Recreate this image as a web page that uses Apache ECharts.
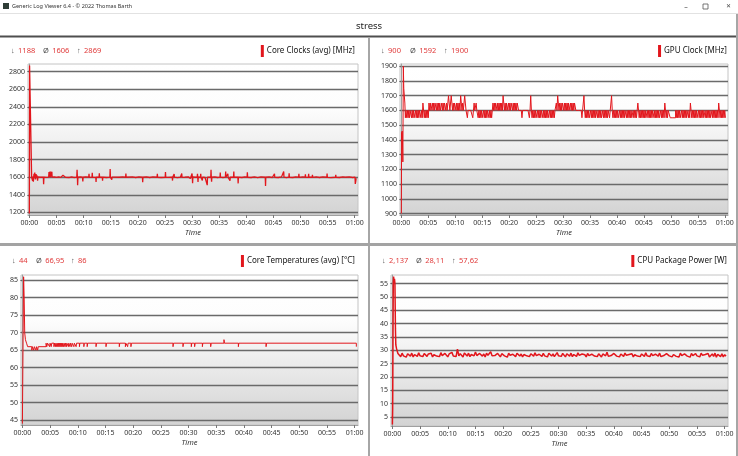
<!DOCTYPE html>
<html>
<head>
<meta charset="utf-8">
<script src="https://cdn.jsdelivr.net/npm/echarts@6/dist/echarts.min.js"></script>
<style>
  html, body { margin: 0; padding: 0; background: #fff; }
  #main { width: 738px; height: 456px; }
</style>
</head>
<body>
<div id="main"></div>
<script>
// values, time in minutes
var panelNames = ["Core Clocks (avg) [MHz]", "GPU Clock [MHz]", "Core Temperatures (avg) [°C]", "CPU Package Power [W]"];
var statMin = ["1188", "900", "44", "2,137"];
var statAvg = ["1606", "1592", "66,95", "28,11"];
var statMax = ["2869", "1900", "86", "57,62"];

var coreClock = [
  [0,1188],[0.04,2869],[0.2,2864],[0.36,2852],[0.42,1600],
  [0.55,1604],[0.6,1560],[0.66,1608],[0.74,1548],[0.8,1604],[0.86,1640],[0.92,1598],[1.0,1652],[1.06,1600],[1.12,1574],
  [1.18,1602],[1.24,1636],[1.3,1598],[1.4,1622],[1.46,1600],[1.52,1560],[1.58,1604],[1.9,1614],[1.96,1600],[2.3,1596],
  [2.58,1602],[2.63,1520],[2.69,1602],[3.1,1598],[3.56,1602],[3.62,1660],[3.68,1600],[3.8,1604],[3.85,1666],[3.9,1598],
  [4.1,1602],[4.15,1662],[4.2,1600],[4.6,1604],[5.0,1597],[5.4,1603],[5.8,1598],[6.15,1602],[6.2,1622],[6.25,1600],
  [6.65,1600],[6.7,1584],[6.75,1602],[7.4,1597],[7.8,1604],[8.2,1597],[8.74,1602],[8.8,1686],[8.86,1600],[8.9,1510],
  [8.96,1600],[9.4,1604],[9.8,1600],[9.86,1552],[9.92,1600],[10.4,1604],[10.95,1600],[11.0,1640],[11.05,1598],[11.55,1602],
  [11.6,1650],[11.65,1600],[12.25,1598],[12.3,1545],[12.35,1602],[12.85,1600],[12.9,1646],[12.95,1600],[13.45,1600],[13.5,1560],
  [13.55,1602],[14.2,1597],[14.85,1602],[14.9,1692],[14.95,1600],[15.15,1600],[15.2,1572],[15.25,1602],[15.85,1602],[15.9,1615],
  [15.95,1600],[16.55,1600],[16.6,1612],[16.65,1598],[17.2,1603],[17.75,1600],[17.8,1642],[17.85,1600],[18.05,1600],[18.1,1620],
  [18.15,1598],[19.0,1604],[19.6,1597],[20.2,1604],[20.85,1600],[20.9,1542],[20.95,1600],[21.6,1604],[22.2,1597],[22.8,1603],
  [23.55,1600],[23.6,1640],[23.65,1600],[24.3,1597],[25.05,1600],[25.1,1660],[25.15,1600],[25.45,1600],[25.5,1620],[25.55,1598],
  [26.35,1600],[26.4,1562],[26.45,1602],[26.65,1600],[26.7,1636],[26.75,1600],[27.3,1596],[27.85,1600],[27.9,1620],[27.95,1600],
  [28.05,1600],[28.1,1642],[28.15,1598],[28.65,1600],[28.7,1588],[28.75,1600],[29.3,1604],[29.65,1600],[29.7,1586],[29.75,1602],
  [29.95,1600],[30.0,1642],[30.05,1600],[30.1,1532],[30.15,1604],[30.55,1600],[30.6,1590],[30.65,1602],[30.95,1600],[31.0,1640],
  [31.05,1600],[31.1,1546],[31.15,1602],[31.55,1600],[31.6,1640],[31.65,1598],[31.85,1600],[31.9,1564],[31.95,1602],[32.4,1597],
  [32.75,1600],[32.8,1510],[32.85,1600],[33.45,1602],[33.5,1684],[33.55,1600],[33.6,1548],[33.65,1600],[34.2,1604],[34.7,1597],
  [35.15,1600],[35.2,1652],[35.25,1600],[35.7,1597],[36.15,1600],[36.2,1666],[36.25,1600],[36.55,1600],[36.6,1640],[36.65,1598],
  [36.95,1600],[37.0,1560],[37.05,1602],[37.65,1600],[37.7,1664],[37.75,1600],[38.45,1600],[38.5,1530],[38.55,1602],[39.2,1597],
  [39.7,1604],[40.15,1600],[40.2,1656],[40.25,1600],[40.9,1597],[41.5,1604],[42.1,1596],[42.7,1603],[43.5,1600],[43.55,1500],
  [43.6,1600],[44.2,1604],[44.8,1597],[45.15,1600],[45.2,1640],[45.25,1600],[45.9,1597],[46.5,1604],[46.85,1600],[46.9,1666],
  [46.95,1600],[47.4,1596],[47.85,1600],[47.9,1646],[47.95,1600],[48.6,1597],[49.1,1604],[49.65,1600],[49.7,1640],[49.75,1598],
  [50.4,1604],[50.85,1600],[50.9,1632],[50.95,1598],[51.45,1600],[51.5,1640],[51.55,1600],[52.15,1600],[52.2,1626],[52.25,1598],
  [52.9,1604],[53.5,1597],[54.1,1604],[54.85,1600],[54.9,1642],[54.95,1598],[55.6,1596],[56.45,1600],[56.5,1626],[56.55,1600],
  [57.2,1597],[57.8,1604],[58.25,1600],[58.3,1620],[58.35,1598],[59.0,1603],[59.6,1597],[60.05,1602],[60.1,1524],[60.2,1560],
  [60.25,1590]
];

var gpuStart = [[0,900],[0.05,1450],[0.1,1400],[0.15,1460],[0.2,1410],[0.28,1250],[0.37,1900],[0.45,1750],[0.55,1760],[0.65,1650],[0.75,1550],[0.85,1600]];
var gpuSampleStart = 1.0, gpuSampleStep = 0.125;
var gpuSamples = [
  1550,1600,1550,1600,1550,1600,1600,1550,1600,1550,1600,1550,1550,1600,1550,1600,1550,1600,1550,1600,1600,1550,1600,1550,
  1650,1600,
  1550,1600,1550,1600,1550,1600,1550,
  1650,1600,1650,1600,1600,1650,1600,1650,1600,1650,1650,1600,1650,1600,1650,1600,1650,1600,1600,1650,1600,1650,1600,1650,1650,1600,1650,1600,1650,
  1700,
  1650,1600,1650,1700,1650,1600,1650,1600,1650,1650,1600,1650,1600,1650,1600,1650,1600,1700,1650,1600,1650,1600,1650,1700,1650,
  1600,1600,1550,1600,1600,1600,1600,1600,1600,1600,1550,1600,
  1650,1600,1600,1650,1600,1600,1550,
  1600,1550,1600,1550,1600,1550,1550,1600,1550,1600,1550,1600,1550,1600,1600,1550,1600,1550,1600,1550,1600,
  1650,1600,1650,1600,1650,1650,1600,1650,1600,1650,1600,1650,1600,1650,1600,1700,1650,1600,1650,1600,
  1650,1600,1600,1650,1600,1650,1600,1650,1650,1600,1650,1600,1650,1600,1650,1600,1650,1650,1600,1600,
  1600,1600,1600,1550,1600,1600,1600,1600,1600,1600,1600,1600,1600,1600,
  1550,1600,1700,
  1600,1550,1600,1550,1600,1550,1600,1550,1550,1600,1550,1600,1550,1600,1550,1600,1600,1550,1600,1550,
  1600,1550,1600,1550,1600,1550,1550,1600,1550,1600,1550,1600,1550,1600,1550,1600,1600,
  1650,1600,1700,1650,1600,1650,1600,1650,1600,1650,1650,1600,1650,1600,1650,1600,1650,1600,1650,1600,
  1600,1650,1600,1650,1600,1650,1600,1650,1650,1600,
  1600,1600,1600,1600,1600,1600,1600,1600,1550,1600,1600,1700,
  1600,1550,1600,1550,1600,1550,1600,1550,1550,1600,1550,1600,1550,1600,1550,1600,1550,1600,
  1600,1550,1600,1550,1600,1550,1600,1550,1550,1600,1550,1600,1550,1600,1550,1600,1550,1600,
  1600,1550,1600,1600,1700,
  1600,1550,1600,1550,1600,1550,1600,1550,1600,1550,1550,1600,1550,1600,1550,1600,1550,1600,1550,1600,
  1600,1550,1600,1550,1600,1550,1600,1550,1600,1550,1550,1600,1550,1600,1550,1600,1550,1600,
  1650,
  1600,1550,1600,1550,1600,1550,1600,1550,1600,1550,1600,1550,1550,1600,1550,1600,1550,1600,1550,1600,
  1550,1600,1600,1550,1600,1550,1600,1550,1600,1550,1600,1550,1550,1600,1550,1600,1550,1600,1550,
  1650,
  1600,1550,1600,1550,1600,
  1600,1600,1550,1550,1550,1550,1550,1550,1550,1550,
  1600,1550,1600,1550,1600,1550,1600,1550,1550,1600,1550,1600,1550,1600,1550,1600,1550,1600,1600,1550,1600,1550,
  1650,
  1600,1550,1600,1550,1600,1550,1600,1550,1600,1550,1550,1600,1550,1600,1550,1600,1550,1600,1550,1600,
  1600,1550,1600,1550,1600,1550,1600,1550,1600,1550,1550,1600,1550,1600,1550,1600,1550,1600,1550,1600,1550,
  1650,
  1600,1550,1600,1550,1600,1550,1600,1550,1600,1550
];

var coreTemp = [
  [0,44],[0.22,86],[0.32,80],[0.42,70],[0.55,68],[0.75,67],[0.95,66],
  [1.7,65],[1.82,66],[2.05,65],[2.17,66],[2.45,65],[2.57,66],[2.75,65],[2.87,66],
  [4.28,67],[4.4,66],[4.55,67],[4.9,66],[5.0,67],[5.2,66],[5.3,67],[5.7,66],[5.8,67],[5.95,66],[6.05,67],
  [6.2,66],[6.28,67],[6.4,66],[6.5,67],[6.6,66],[6.68,67],[6.8,66],[6.88,67],[7.0,66],[7.08,67],[7.2,66],[7.28,67],
  [7.45,66],[7.53,67],[7.7,66],[7.78,67],[7.95,66],[8.03,67],[8.3,66],[8.38,67],[8.6,66],[8.68,67],[8.9,66],[8.98,67],
  [9.3,66],[9.38,67],[9.7,66],[9.78,67],[10.3,66],[10.38,67],[11.1,66],[11.18,67],[11.7,66],[11.78,67],[13.3,66],[13.38,67],
  [15.1,66],[15.18,67],[17.5,66],[17.58,67],[18.6,66],[18.68,67],[19.0,66],[19.08,67],[19.6,66],[19.68,67],
  [27.2,66],[27.28,67],[29.0,66],[29.08,67],[30.5,66],[30.58,67],[31.1,66],[31.18,67],[32.5,66],[32.58,67],
  [34.0,66],[34.08,67],[36.4,68],[36.48,67],[39.0,66],[39.08,67],[44.0,66],[44.08,67],[60.3,66],[60.4,66]
];

var powerStart = [[0,2.137],[0.05,8],[0.1,30],[0.16,55],[0.22,57.62],[0.3,55.2],[0.38,56.8],[0.46,55],[0.55,38],[0.62,32],[0.75,30.6],[0.9,29.9],[1.0,28.8]];
var powerSampleStart = 1.25, powerSampleStep = 0.25;
var powerSamples = [
  28.3,27.6,28.9,27.9,28.4,27.4,28.7,28.1,27.8,28.9,27.5,28.4,28.0,27.7,29.0,27.9,28.5,27.6,28.8,28.2,
  27.7,28.6,27.9,28.9,27.5,28.3,28.7,27.8,28.4,27.6,29.1,28.0,27.7,28.8,28.2,27.5,28.6,28.0,29.2,27.8,
  28.5,27.6,30.4,27.9,28.7,28.1,27.5,29.0,28.3,27.8,28.9,27.6,28.4,28.7,27.9,29.3,28.0,27.6,28.8,28.2,
  27.8,28.6,27.5,28.9,28.1,27.7,29.4,27.9,28.5,28.0,27.6,28.8,28.2,27.5,28.7,28.0,27.9,28.6,27.4,28.9,
  28.1,27.7,28.5,28.0,27.6,28.9,28.3,27.8,28.6,27.5,28.4,28.9,27.9,28.2,27.6,28.7,28.1,27.8,29.0,28.0,
  27.6,28.5,28.1,27.7,28.8,27.9,28.4,27.5,28.9,28.2,27.8,28.6,27.6,28.3,29.1,27.9,28.5,27.7,28.8,28.1,
  27.5,28.7,28.0,27.8,28.9,27.6,28.4,28.2,27.7,29.0,28.1,27.6,28.6,27.9,28.3,27.5,28.8,28.0,27.7,28.5,
  28.9,27.8,28.2,27.6,28.7,28.0,27.5,28.6,28.1,27.9,29.2,27.7,28.4,28.0,27.6,28.8,28.2,27.8,28.5,27.5,
  28.6,28.0,27.7,28.9,28.1,27.6,28.4,27.9,28.7,27.5,28.3,28.9,27.8,28.1,27.6,28.6,28.2,27.7,29.0,27.9,
  28.4,27.6,28.8,28.0,27.5,28.5,28.2,27.8,28.9,27.6,28.3,28.0,27.4,28.7,28.1,27.9,28.6,27.5,28.4,28.8,
  27.7,28.2,27.5,28.9,28.0,27.6,28.6,28.1,27.8,28.5,27.4,28.8,28.0,27.6,28.7,27.9,28.3,27.5,28.9,28.1,
  27.6,28.4,27.9,28.8,27.5,28.2,28.6,27.7,28.9,27.4,28.5,28.0,27.6,28.7,27.5,28.3,27.8
];

function withSamples(start, t0, dt, vals) {
  var out = start.slice();
  for (var i = 0; i < vals.length; i++) out.push([t0 + i * dt, vals[i]]);
  return out;
}

function pad(n) { return (n < 10 ? "0" : "") + n; }
function onStep(v, st) { return Math.abs(v / st - Math.round(v / st)) < 1e-6; }
function fmtTime(v) {
  if (!onStep(v, 5)) return "";
  var h = Math.floor(v / 60 + 1e-9);
  return pad(h) + ":" + pad(Math.round(v - h * 60));
}

var RED = "#e2161c";
var FONT = "Noto Sans";

var panels = [
  { data: coreClock, step: false, lw: 1.3, yMin: 1171, yMax: 2886, yStep: 200,
    grid: { left: 28, top: 64, width: 330, height: 151 }, legendRight: 383, statY: 51, statX: [11, 43, 77] },
  { data: withSamples(gpuStart, gpuSampleStart, gpuSampleStep, gpuSamples), step: "end", lw: 1, yMin: 890, yMax: 1915, yStep: 100,
    grid: { left: 400, top: 64, width: 328, height: 151 }, legendRight: 11, statY: 51, statX: [381, 410, 444] },
  { data: coreTemp, step: "end", lw: 1, yMin: 43.6, yMax: 86.5, yStep: 5,
    grid: { left: 21, top: 275, width: 337, height: 150 }, legendRight: 383, statY: 261, statX: [12, 36, 71] },
  { data: withSamples(powerStart, powerSampleStart, powerSampleStep, powerSamples), step: false, lw: 1.5, yMin: 1.6, yMax: 58.2, yStep: 5,
    grid: { left: 391, top: 275, width: 337, height: 151 }, legendRight: 11, statY: 261, statX: [382, 416, 452] }
];

var plotBg = { type: "linear", x: 0, y: 0, x2: 0, y2: 1,
  colorStops: [{ offset: 0, color: "#ffffff" }, { offset: 0.3, color: "#fdfdfd" }, { offset: 1, color: "#d3d3d3" }] };

var grids = [], xAxes = [], yAxes = [], series = [], legends = [];
var graphics = [
  // window title bar
  { type: "rect", shape: { x: 3, y: 3, width: 6, height: 6 }, style: { fill: "#2f3d37" } },
  { type: "text", x: 12, y: 6.5, style: { text: "Generic Log Viewer 6.4 - © 2022 Thomas Barth", fill: "#333", font: "5.5px " + FONT, verticalAlign: "middle" } },
  { type: "text", x: 686, y: 6.5, style: { text: "–", fill: "#444", font: "7px " + FONT, align: "center", verticalAlign: "middle" } },
  { type: "rect", shape: { x: 703, y: 4, width: 5, height: 5 }, style: { fill: "none", stroke: "#555", lineWidth: 0.8 } },
  { type: "text", x: 728, y: 6.5, style: { text: "✕", fill: "#444", font: "6px " + FONT, align: "center", verticalAlign: "middle" } },
  { type: "line", shape: { x1: 0, y1: 13.5, x2: 738, y2: 13.5 }, style: { stroke: "#e2e2e2", lineWidth: 1 } },
  // header
  { type: "text", x: 369, y: 26.5, style: { text: "stress", fill: "#222", font: "9.5px " + FONT, align: "center", verticalAlign: "middle" } },
  { type: "line", shape: { x1: 0, y1: 36.5, x2: 738, y2: 36.5 }, style: { stroke: "#4e4e4e", lineWidth: 1.8 } },
  // panel dividers
  { type: "line", shape: { x1: 369, y1: 37, x2: 369, y2: 456 }, style: { stroke: "#a6a6a6", lineWidth: 2 } },
  { type: "line", shape: { x1: 0, y1: 244.5, x2: 738, y2: 244.5 }, style: { stroke: "#a3a3a3", lineWidth: 3 } },
  { type: "line", shape: { x1: 737, y1: 14, x2: 737, y2: 456 }, style: { stroke: "#a6a6a6", lineWidth: 2 } }
];

panels.forEach(function (p, i) {
  grids.push(Object.assign({ show: true, backgroundColor: plotBg, borderColor: "#c4c4c4", borderWidth: 1 }, p.grid));
  xAxes.push({
    gridIndex: i, type: "value", min: -0.25, max: 60.6, minInterval: 5, maxInterval: 5,
    name: "Time", nameLocation: "middle", nameGap: 14,
    nameTextStyle: { fontStyle: "italic", fontSize: 7.5, color: "#333", fontFamily: FONT },
    axisLine: { show: true, lineStyle: { color: "#a0a0a0" } },
    axisTick: { show: true, length: 3, lineStyle: { color: "#777" } },
    axisLabel: { fontSize: 7, color: "#333", margin: 4, fontFamily: FONT, showMinLabel: false, showMaxLabel: false, formatter: fmtTime },
    splitLine: { show: false }
  });
  yAxes.push({
    gridIndex: i, type: "value", min: p.yMin, max: p.yMax, minInterval: p.yStep, maxInterval: p.yStep,
    axisLine: { show: true, lineStyle: { color: "#a0a0a0" } },
    axisTick: { show: true, length: 2, lineStyle: { color: "#666" } },
    axisLabel: { fontSize: 7, color: "#333", margin: 3, fontFamily: FONT, showMinLabel: false, showMaxLabel: false,
      formatter: function (v) { return onStep(v, p.yStep) ? String(v) : ""; } },
    splitLine: { show: true, showMinLine: false, showMaxLine: false, lineStyle: { color: "#6a6a6a", width: 1.4 } }
  });
  series.push({
    name: panelNames[i], type: "line", xAxisIndex: i, yAxisIndex: i, data: p.data,
    step: p.step, showSymbol: false, symbol: "none", color: RED,
    lineStyle: { color: RED, width: p.lw }, z: 3
  });
  legends.push({
    data: [panelNames[i]], right: p.legendRight, top: p.statY - 6, padding: 0,
    icon: "rect", itemWidth: 3, itemHeight: 12, selectedMode: false,
    textStyle: { fontSize: 8, color: "#151515", fontFamily: FONT, padding: [0, 0, 0, -2] }
  });
  var glyphs = ["↓", "Ø", "↑"];
  var vals = [statMin[i], statAvg[i], statMax[i]];
  for (var k = 0; k < 3; k++) {
    graphics.push({
      type: "text", x: p.statX[k], y: p.statY,
      style: {
        text: "{g|" + glyphs[k] + "} {r|" + vals[k] + "}", verticalAlign: "middle",
        rich: {
          g: { fill: "#555", fontSize: 7.5, fontFamily: FONT },
          r: { fill: "#e03a3a", fontSize: 7.5, fontFamily: FONT }
        }
      }
    });
  }
});

var chart = echarts.init(document.getElementById("main"), null, { renderer: "canvas" });
chart.setOption({
  animation: false,
  backgroundColor: "#ffffff",
  textStyle: { fontFamily: FONT },
  grid: grids,
  xAxis: xAxes,
  yAxis: yAxes,
  legend: legends,
  series: series,
  graphic: graphics
});
</script>
</body>
</html>
